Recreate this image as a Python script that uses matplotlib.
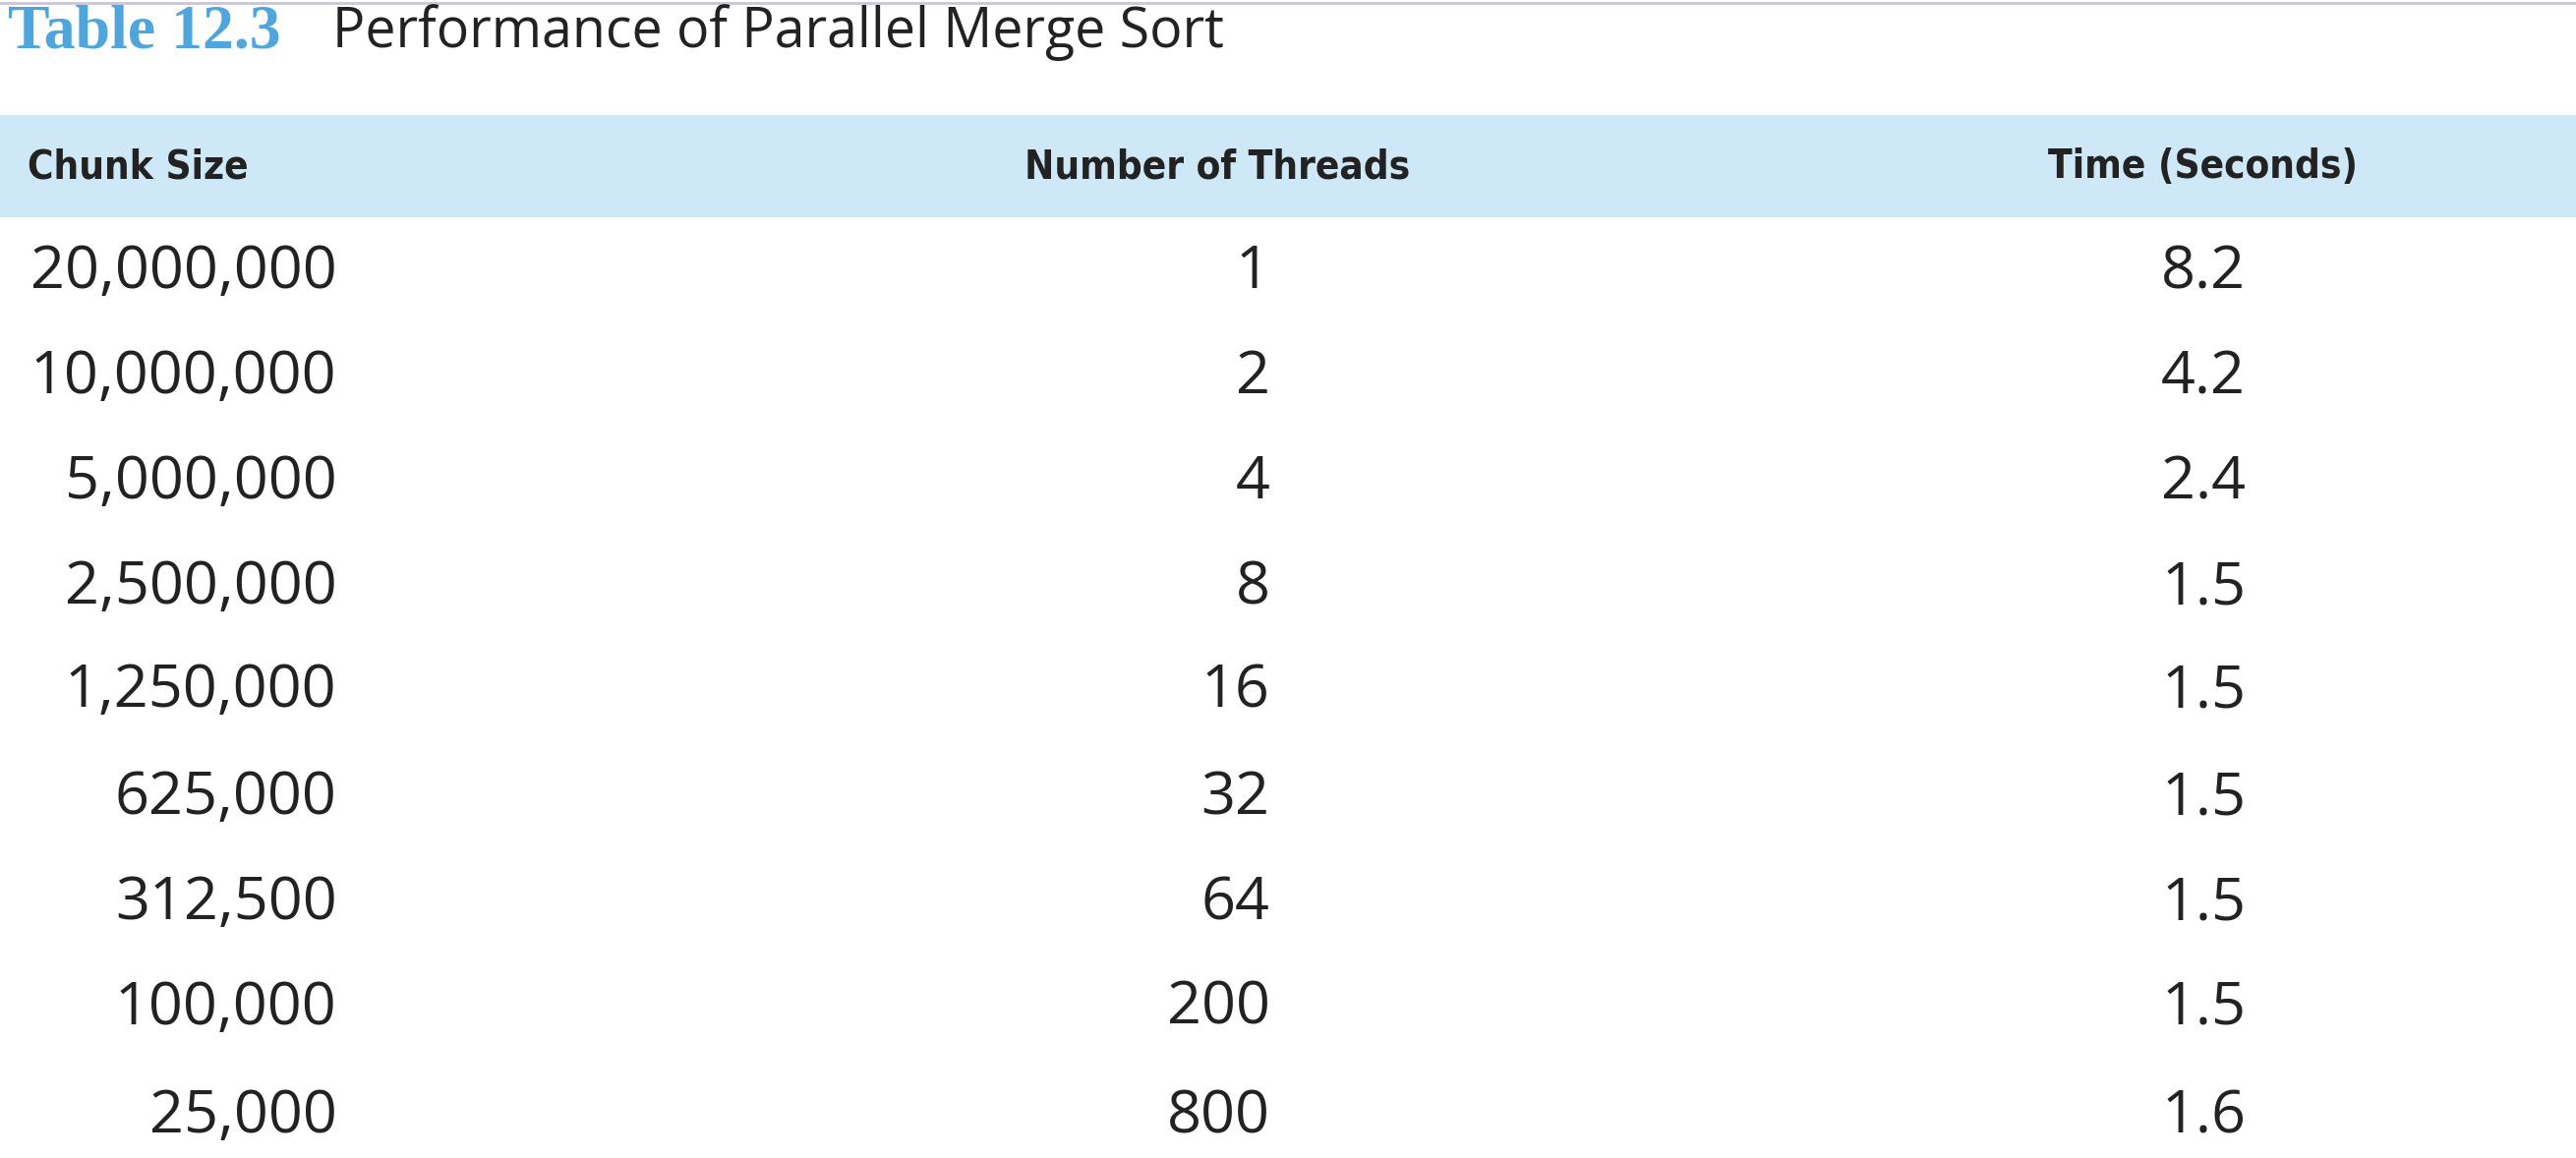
import matplotlib
matplotlib.use("Agg")
import matplotlib.pyplot as plt
from matplotlib.patches import Rectangle

title_num = "Table 12.3"
title_text = "Performance of Parallel Merge Sort"
headers = ["Chunk Size", "Number of Threads", "Time (Seconds)"]
chunk_sizes = ["20,000,000", "10,000,000", "5,000,000", "2,500,000", "1,250,000",
               "625,000", "312,500", "100,000", "25,000"]
threads = ["1", "2", "4", "8", "16", "32", "64", "200", "800"]
times = ["8.2", "4.2", "2.4", "1.5", "1.5", "1.5", "1.5", "1.5", "1.6"]

W, H = 1568, 705
fig = plt.figure(figsize=(26.2, 11.78), dpi=100)
ax = fig.add_axes([0, 0, 1, 1])
ax.set_xlim(0, W); ax.set_ylim(H, 0); ax.axis("off")

ax.plot([0, W], [2, 2], color="#c9c6d8", lw=2)
ax.text(5, 20, title_num, fontsize=46, fontweight="bold", family=["Liberation Serif", "DejaVu Serif"],
        color="#4fa6dc", va="center", ha="left")
ax.text(202, 20, title_text, fontsize=40, family=["Open Sans", "DejaVu Sans"],
        color="#222222", va="center", ha="left")

ax.add_patch(Rectangle((0, 70), W, 62, color="#cfe8f8", lw=0))
hfont = ["DejaVu Sans"]
kw = dict(fontsize=29, fontweight="bold", fontstretch="condensed", family=hfont,
          color="#222222", va="center")
ax.text(17, 102, headers[0], ha="left", **kw)
ax.text(741, 102, headers[1], ha="center", **kw)
ax.text(1341, 102, headers[2], ha="center", **kw)

rows_y = [166, 230, 294, 358, 421, 486, 550, 614, 680]
bfont = ["Open Sans", "DejaVu Sans"]
for y, c, t, s in zip(rows_y, chunk_sizes, threads, times):
    ax.text(205, y, c, fontsize=44, family=bfont, color="#222222", va="center", ha="right")
    ax.text(773, y, t, fontsize=44, family=bfont, color="#222222", va="center", ha="right")
    ax.text(1367, y, s, fontsize=44, family=bfont, color="#222222", va="center", ha="right")

fig.savefig("out.png", dpi=100)
